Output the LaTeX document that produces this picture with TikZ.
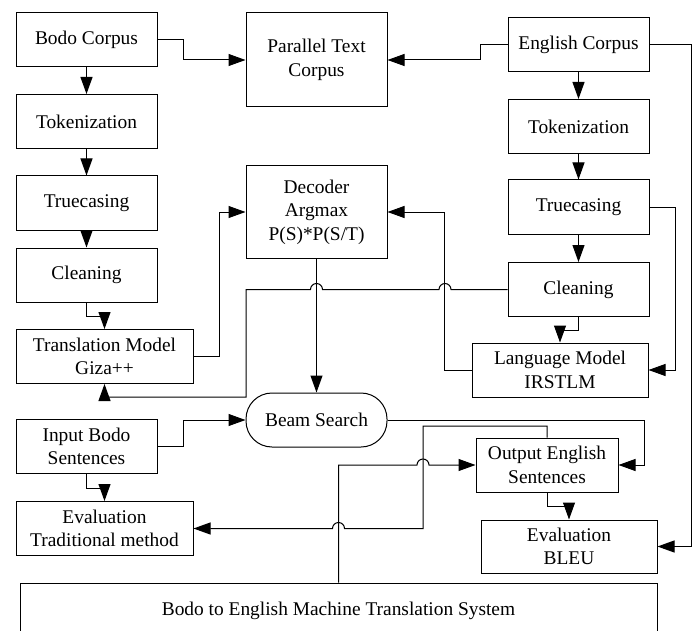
\documentclass[tikz,border=0pt]{standalone}
\usepackage{fontspec}
\setmainfont{Liberation Serif}
\usetikzlibrary{arrows.meta}
\begin{document}
\begin{tikzpicture}[x=1pt,y=-1pt,
  box/.style={draw=black,line width=1pt,align=center,inner sep=0pt,
    font=\fontsize{19.4}{23.5}\selectfont},
  sbox/.style={box,minimum width=141,minimum height=54},
  wbox/.style={box,minimum width=177,minimum height=54},
  conn/.style={line width=1pt},
  arr/.style={conn,-{Triangle[length=17pt,width=12pt]}}]
\useasboundingbox (0,0) rectangle (698,631);
\clip (0,0) rectangle (698,631);
% left column
\node[sbox] (bc) at (86.5,40) {Bodo Corpus};
\node[sbox] (btok) at (86.5,121.5) {Tokenization};
\node[sbox] (btrue) at (86.5,203) {Truecasing};
\node[sbox] (bclean) at (86.5,275) {Cleaning};
\node[wbox] (tm) at (104.5,356.5) {Translation Model\\Giza++};
\node[sbox] (inb) at (86.5,446.5) {Input Bodo\\Sentences};
\node[wbox] (evt) at (104.5,528.5) {Evaluation\\Traditional method};
% middle
\node[box,minimum width=141,minimum height=94] (par) at (316.5,60) {Parallel Text\\Corpus};
\node[box,minimum width=141,minimum height=92] (dec) at (316.5,212) {Decoder\\Argmax\\P(S)*P(S/T)};
\node[box,minimum width=141,minimum height=54,rounded corners=26pt] (beam) at (316.5,420) {Beam Search};
% right column
\node[sbox] (ec) at (578.5,45) {English Corpus};
\node[sbox] (etok) at (578.5,126.5) {Tokenization};
\node[sbox] (etrue) at (578.5,207) {Truecasing};
\node[sbox] (eclean) at (578.5,289.5) {Cleaning};
\node[box,minimum width=176,minimum height=54] (lm) at (560,370) {Language Model\\IRSTLM};
\node[box,minimum width=142,minimum height=54] (oes) at (547,465) {Output English\\Sentences};
\node[box,minimum width=176,minimum height=53] (bleu) at (569,546.5) {Evaluation\\BLEU};
\node[box,minimum width=637,minimum height=56] (sys) at (338.5,611) {Bodo to English Machine Translation System};
% connectors
\draw[arr] (bc.east) -- ++(26,0) |- (par.west);
\draw[arr] (ec.west) -- ++(-27,0) |- (par.east);
\draw[arr] (bc) -- (btok);
\draw[arr] (btok) -- (btrue);
\draw[arr] (btrue) -- (bclean);
\draw[arr] (bclean.south) -- ++(0,14) -| (tm.north);
\draw[arr] (tm.east) -- ++(26,0) |- (dec.west);
\draw[arr] (ec) -- (etok);
\draw[arr] (etok) -- (etrue);
\draw[arr] (etrue) -- (eclean);
\draw[arr] (eclean.south) -- ++(0,13) -| (lm.north);
\draw[arr] (etrue.east) -- ++(26,0) |- (lm.east);
\draw[arr] (ec.east) -- ++(42,0) |- (bleu.east);
\draw[arr] (lm.west) -- ++(-27,0) |- (dec.east);
\draw[arr] (eclean.west) -- (451,289.5) arc[start angle=0,end angle=180,radius=6pt]
  -- (322.5,289.5) arc[start angle=0,end angle=180,radius=6pt]
  -- (246,289.5) -- (246,397) -| (tm.south);
\draw[arr] (dec.south) -- (beam.north);
\draw[arr] (inb.east) -- ++(26,0) |- (beam.west);
\draw[arr] (inb.south) -- ++(0,14) -| (evt.north);
\draw[arr] (beam.east) -- (644,420) |- (oes.east);
\draw[arr] (oes.south) -- ++(0,14) -| (bleu.north);
\draw[arr] (sys.north) -- (338.5,465) -- (417,465) arc[start angle=180,end angle=0,radius=6pt] -- (oes.west);
\draw[arr] (oes.north) -- (547,426) -- (423,426) -- (423,528.5) -- (344.5,528.5)
  arc[start angle=0,end angle=180,radius=6pt] -- (evt.east);
\end{tikzpicture}
\end{document}
